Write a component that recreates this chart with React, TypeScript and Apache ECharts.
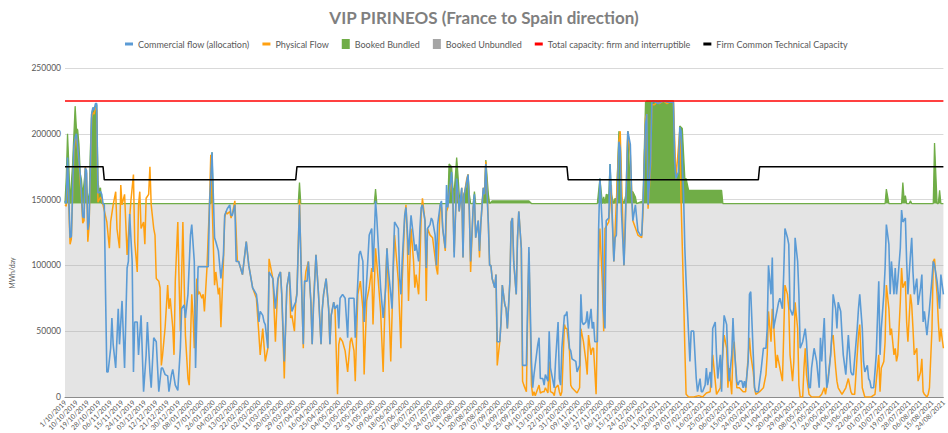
import React, { useEffect, useRef } from 'react';
import * as echarts from 'echarts';

// Categories: one per gas day, 1 Oct 2019 .. 24 Aug 2021
const firstDay = { year: 2019, month: 9, day: 1 };
const dayCount = 694;
const firstLabel = '1/10/2019';

// [day index, thousand MWh/day]
const commercialFlowK: [number, number][] = [
  [0,149],[1,147],[2,182],[4,121],[5,122],[7,190],[8,197],[9,200],[11,180],[12,169],[13,154],[14,137],[15,136],[16,174],[17,172],[18,127],[19,133],[21,215],[22,220],[23,218],[24,223],[25,223],[26,155],[28,156],[29,154],[30,147],[31,146],[32,78],[33,19],[34,19],[36,37],[37,60],[38,40],[40,22],[42,67],[43,40],[45,73],[47,22],[49,98],[50,103],[51,139],[53,103],[54,19],[55,57],[57,57],[58,32],[60,62],[62,4],[64,32],[65,57],[67,19],[68,7],[70,45],[72,42],[74,4],[76,22],[77,22],[79,17],[81,16],[82,4],[84,17],[85,21],[87,9],[89,5],[91,37],[92,67],[94,70],[95,60],[97,78],[99,123],[100,131],[102,103],[103,22],[105,99],[108,99],[110,99],[113,99],[114,146],[116,186],[118,121],[119,118],[121,111],[123,90],[125,108],[126,138],[128,143],[130,146],[131,138],[132,138],[134,146],[135,103],[136,103],
  [137,103],[140,93],[143,118],[145,100],[148,83],[151,78],[152,70],[153,57],[154,65],[156,62],[157,57],[158,55],[160,37],[161,95],[164,90],[166,67],[168,90],[169,93],[170,95],[171,78],[173,27],[174,52],[175,83],[177,95],[178,78],[179,65],[181,70],[182,72],[183,78],[185,146],[187,72],[188,40],[189,88],[191,88],[192,103],[194,72],[195,40],[196,67],[198,108],[200,78],[202,40],[203,67],[204,78],[206,90],[208,67],[209,40],[210,62],[212,72],[213,67],[215,70],[216,52],[217,75],[219,78],[221,75],[223,45],[224,75],[228,75],[229,45],[230,67],[232,108],[233,111],[235,103],[236,57],[238,88],[240,123],[242,128],[243,95],[245,149],[246,136],[247,118],[249,83],[251,60],[253,83],[254,113],[255,98],[257,78],[258,67],[259,103],[260,133],[263,128],[264,90],[265,78],[266,103],[268,138],[269,144],[270,128],[271,108],[273,138],[275,121],[276,111],
  [277,116],[279,103],[280,128],[281,144],[282,146],[284,134],[285,98],[286,128],[288,131],[289,136],[290,134],[292,123],[293,100],[294,131],[296,146],[297,149],[298,128],[300,113],[301,161],[302,144],[303,154],[305,171],[306,151],[307,106],[309,166],[310,156],[311,141],[313,159],[314,106],[315,154],[317,164],[318,169],[319,141],[320,103],[322,144],[323,154],[324,121],[326,134],[327,111],[328,131],[330,159],[331,154],[332,177],[334,131],[335,100],[336,100],[337,90],[339,83],[340,93],[341,42],[343,42],[344,57],[345,85],[347,70],[348,67],[349,52],[351,88],[352,133],[353,136],[354,103],[356,78],[357,121],[358,141],[360,113],[361,24],[362,24],[364,24],[365,72],[366,114],[368,27],[369,7],[370,17],[373,40],[374,45],[375,14],[377,14],[378,9],[379,17],[381,12],[382,50],[383,22],[385,12],[386,7],[387,27],[389,57],[390,14],[391,9],[392,37],[394,62],[395,62],[396,65],[398,37],[399,35],[400,29],[403,27],[404,19],[406,24],[407,78],[408,57],[409,55],[411,57],[412,65],[413,52],[415,67],[416,52],
  [417,57],[418,42],[420,42],[421,128],[422,166],[424,128],[425,65],[426,52],[427,134],[429,136],[430,177],[431,154],[433,103],[434,121],[435,123],[437,194],[438,189],[439,141],[441,100],[442,128],[443,166],[444,202],[446,192],[447,154],[448,134],[450,146],[451,136],[452,126],[454,123],[455,123],[456,146],[458,207],[459,215],[460,146],[462,179],[463,224],[464,225],[468,223],[472,225],[476,224],[480,224],[481,179],[482,166],[484,171],[485,205],[486,202],[488,154],[489,113],[490,88],[492,47],[493,27],[494,50],[496,50],[497,32],[498,14],[499,4],[501,14],[502,4],[503,4],[505,9],[506,22],[507,9],[509,19],[510,7],[511,52],[513,57],[514,32],[515,14],[517,32],[518,4],[519,40],[520,62],[522,55],[523,27],[524,12],[526,32],[527,60],[528,37],[530,12],[531,9],[532,12],[534,12],[535,7],[536,12],[537,7],[539,27],[540,78],[541,80],[543,32],[544,7],[545,4],[547,4],[548,12],[549,19],[551,37],[552,37],[553,37],[554,52],
  [555,100],[557,78],[558,106],[559,52],[561,62],[562,67],[563,72],[564,75],[566,67],[567,93],[568,128],[570,121],[571,116],[572,67],[574,62],[575,67],[576,121],[578,103],[579,78],[580,37],[582,42],[583,47],[584,52],[585,42],[587,7],[588,7],[589,22],[591,37],[592,32],[593,27],[595,7],[596,45],[597,27],[599,60],[600,27],[601,7],[602,12],[604,32],[605,47],[606,78],[608,67],[609,52],[610,72],[612,65],[613,47],[614,32],[616,17],[617,32],[618,47],[620,19],[621,17],[622,17],[623,29],[625,52],[626,67],[627,78],[629,52],[630,27],[631,19],[633,24],[634,14],[635,12],[636,7],[638,7],[639,19],[640,32],[642,88],[643,32],[644,52],[646,78],[647,98],[648,131],[650,116],[651,78],[652,103],[654,78],[655,98],[656,78],[657,88],[659,113],[660,142],[661,133],[663,136],[664,103],[665,78],[667,108],[668,121],[669,95],[670,78],[672,90],[673,70],[675,83],[676,93],[677,57],[678,65],[680,47],[681,57],[682,67],[684,90],[685,103],[686,100],[688,88],[689,78],[690,67],[691,93],[693,78],
];

const physicalFlowK: [number, number][] = [
  [0,146],[1,145],[2,175],[4,116],[5,120],[7,185],[8,195],[9,198],[11,178],[12,165],[13,150],[14,132],[15,134],[16,175],[17,170],[18,118],[19,130],[21,212],[22,216],[23,215],[24,220],[25,218],[26,148],[28,152],[29,150],[30,146],[33,133],[35,113],[36,133],[38,146],[40,156],[41,128],[43,113],[44,161],[45,146],[47,154],[49,108],[50,123],[52,149],[54,169],[55,118],[57,95],[58,146],[59,156],[60,128],[62,133],[63,116],[64,151],[66,154],[67,175],[68,146],[70,128],[71,123],[72,90],[74,88],[75,83],[76,24],[77,32],[79,53],[81,85],[82,67],[83,75],[85,53],[86,32],[87,88],[89,133],[90,88],[91,50],[93,133],[94,88],[95,47],[97,14],[98,9],[100,78],[101,62],[102,37],[104,90],[105,78],[106,80],[108,75],[109,78],[110,65],[112,98],[113,123],[114,146],[115,184],[117,116],[118,85],[119,95],[121,78],[122,83],[123,53],[125,103],[126,136],[127,141],[128,139],[130,141],[131,136],[132,139],[134,149],[136,103],
  [137,103],[140,93],[143,118],[145,100],[148,83],[151,75],[153,47],[154,32],[156,52],[158,27],[160,37],[161,105],[164,90],[166,42],[168,88],[169,93],[170,95],[171,78],[173,14],[174,52],[175,83],[177,95],[178,60],[179,62],[181,50],[182,72],[183,80],[185,150],[187,72],[188,37],[189,85],[190,95],[192,103],[194,72],[195,40],[196,72],[198,108],[200,78],[202,40],[203,67],[204,78],[206,90],[208,67],[209,40],[210,62],[212,72],[213,67],[215,2],[216,40],[217,45],[219,42],[221,35],[223,19],[225,42],[226,45],[228,35],[229,12],[231,78],[233,88],[235,67],[236,17],[238,73],[240,83],[242,98],[243,55],[245,113],[247,90],[249,65],[251,19],[253,90],[254,113],[255,85],[257,27],[259,95],[260,123],[263,88],[265,37],[266,88],[268,136],[269,146],[270,123],[271,73],[273,128],[275,103],[276,83],
  [277,93],[279,78],[280,103],[281,138],[282,151],[284,134],[285,73],[286,128],[288,123],[290,121],[293,98],[294,93],[296,146],[297,144],[298,128],[300,111],[301,141],[302,144],[303,154],[305,166],[306,151],[307,110],[309,163],[310,156],[311,141],[313,159],[314,106],[315,154],[317,166],[318,169],[319,141],[320,95],[322,144],[323,150],[324,121],[326,134],[327,106],[328,131],[330,159],[331,154],[332,179],[334,133],[335,100],[336,100],[337,90],[339,83],[340,93],[341,24],[343,42],[344,57],[345,85],[347,70],[348,67],[349,52],[351,88],[352,133],[353,136],[354,103],[356,78],[357,121],[358,141],[360,113],[361,12],[362,9],[364,4],[365,60],[366,110],[368,9],[369,1],[370,4],[371,1],[374,9],[375,3],[377,4],[378,4],[379,7],[381,3],[382,27],[383,4],[385,3],[386,1],[387,7],[389,9],[390,4],[391,1],[392,4],[394,55],[395,52],[396,52],[398,35],[399,9],[400,7],[403,4],[404,3],[406,7],[407,52],[408,47],[409,42],[411,27],[412,17],[413,47],[415,32],[416,37],
  [417,37],[419,2],[421,103],[422,128],[424,85],[425,50],[426,128],[429,133],[431,161],[433,103],[434,126],[437,194],[438,202],[441,100],[443,166],[444,202],[446,184],[448,134],[452,123],[455,121],[456,140],[458,212],[459,215],[460,143],[462,175],[463,222],[465,222],[467,224],[469,223],[472,225],[475,223],[478,225],[480,224],[482,166],[485,202],[486,151],[488,78],[489,37],[490,2],[492,0],[496,0],[500,1],[503,0],[506,3],[509,4],[511,32],[514,2],[517,7],[520,47],[522,37],[523,7],[524,22],[526,2],[527,37],[528,42],[530,7],[532,7],[535,4],[537,4],[540,45],[541,32],[543,19],[544,7],[545,2],[548,4],[551,7],[553,17],[554,32],
  [555,65],[557,42],[558,67],[559,57],[561,22],[562,32],[563,27],[564,22],[566,12],[567,47],[568,85],[570,78],[571,67],[572,32],[574,12],[575,27],[576,72],[578,52],[579,9],[580,0],[582,0],[583,22],[584,37],[585,17],[587,2],[589,0],[592,0],[595,0],[597,2],[599,7],[600,2],[602,14],[604,32],[605,45],[606,47],[608,22],[609,12],[610,7],[613,2],[616,7],[618,14],[620,4],[621,2],[623,2],[626,47],[627,55],[629,7],[631,0],[634,0],[636,0],[639,2],[642,32],[643,4],[644,22],[646,27],[647,42],[648,85],[650,67],[651,47],[652,52],[654,32],[655,37],[656,27],[657,32],[659,72],[660,98],[661,83],[663,88],[664,57],[665,42],[667,78],[668,70],[669,52],[670,32],[672,37],[673,12],[675,19],[676,29],[677,4],[678,2],[680,0],[681,2],[682,7],[684,52],[685,103],[686,105],[688,78],[689,57],[690,42],[691,52],[693,37],
];

// Booked bundled capacity (thousand MWh/day), stacked on the unbundled level
const bookedBundledK: [number, number][] = [
  [0,0],[1,20],[2,53],[3,30],[4,0],[6,30],[8,74],[9,57],[10,56],[11,45],[12,23],[13,18],[14,6],[16,25],[17,12],[19,0],[20,40],[21,68],[22,72],[24,74],[25,75],[26,17],[27,9],[28,12],[29,0],
  [115,0],[116,39],[117,0],
  [184,0],[185,16],[186,0],
  [244,0],[245,11],[246,0],
  [302,0],[303,30],[305,28],[306,12],[307,8],[309,35],[310,22],[311,7],[312,0],[315,8],[317,12],[318,22],[319,7],[320,0],[322,0],[323,9],[324,0],[329,0],[330,9],[331,9],[332,33],[334,7],[335,0],[337,2],[366,2],[368,0],
  [420,0],[422,19],[424,0],[425,5],[426,0],[427,7],[429,6],[430,30],[431,7],[433,0],[434,4],[435,0],[437,55],[438,50],[439,5],[441,0],[443,9],[444,55],[446,10],[447,9],[448,9],[450,5],[451,0],[456,2],[458,77],[459,78],[480,78],[481,22],[482,19],[484,22],[485,59],[487,57],[489,19],[490,19],[492,10],[518,10],[519,0],
  [647,0],[648,11],[650,0],[660,0],[661,16],[662,3],[663,6],[664,0],[666,0],[667,2],[668,0],[685,0],[686,46],[688,0],[689,0],[690,10],[691,0],[693,0],
];

const bookedUnbundled = 147000;
const totalCapacity = 225000;
// Firm common technical capacity: [day index, MWh/day]
const firmCapacity: [number, number][] = [
  [0,175000],[30,175000],[31,165000],[182,165000],[183,175000],[396,175000],[397,165000],[547,165000],[548,175000],[693,175000],
];

const yTicks = { min: 0, max: 250000, interval: 50000 };

const names = {
  commercial: 'Commercial flow (allocation)',
  physical: 'Physical Flow',
  bundled: 'Booked Bundled',
  unbundled: 'Booked Unbundled',
  total: 'Total capacity: firm and interruptible',
  firm: 'Firm Common Technical Capacity',
};

function buildDates(): string[] {
  const out: string[] = [];
  for (let i = 0; i < dayCount; i++) {
    const d = new Date(Date.UTC(firstDay.year, firstDay.month, firstDay.day + i));
    const dd = String(d.getUTCDate()).padStart(2, '0');
    const mm = String(d.getUTCMonth() + 1).padStart(2, '0');
    out.push(`${dd}/${mm}/${d.getUTCFullYear()}`);
  }
  out[0] = firstLabel;
  return out;
}

const FONT = 'Lato, "Open Sans", sans-serif';
const dashIcon = 'path://M0,0 M0,3.5 L8,3.5 L8,6.5 L0,6.5 Z M8,10';

export default function App() {
  const ref = useRef<HTMLDivElement>(null);
  useEffect(() => {
    if (!ref.current) return;
    const chart = echarts.init(ref.current, undefined, { renderer: 'svg' });
    const dates = buildDates();
    const k = (arr: [number, number][]) => arr.map(([d, v]) => [d, v * 1000]);
    const lastDay = dayCount - 1;
    chart.setOption({
      animation: false,
      backgroundColor: '#ffffff',
      textStyle: { fontFamily: FONT },
      title: {
        text: 'VIP PIRINEOS (France to Spain direction)',
        left: 479,
        top: 4,
        textAlign: 'center',
        textStyle: { fontSize: 17, fontWeight: 'bold', color: '#7f7f7f', fontFamily: FONT },
      },
      legend: {
        left: 120,
        top: 34,
        itemWidth: 8,
        itemHeight: 10,
        itemGap: 13,
        itemStyle: { borderWidth: 0 },
        textStyle: { fontSize: 9, color: '#595959', fontFamily: FONT },
        data: [
          { name: names.commercial, icon: dashIcon },
          { name: names.physical, icon: dashIcon },
          { name: names.bundled, icon: 'rect' },
          { name: names.unbundled, icon: 'rect' },
          { name: names.total, icon: dashIcon },
          { name: names.firm, icon: dashIcon },
        ],
      },
      grid: { left: 65, right: 2, top: 68, bottom: 36 },
      xAxis: {
        type: 'category',
        data: dates,
        boundaryGap: false,
        axisLine: { lineStyle: { color: '#8c8c8c', width: 1 } },
        axisTick: { show: false },
        axisLabel: { interval: 8, rotate: 45, fontSize: 7, color: '#595959', margin: 4, fontFamily: FONT },
        splitLine: { show: false },
      },
      yAxis: {
        type: 'value',
        min: yTicks.min,
        max: yTicks.max,
        interval: yTicks.interval,
        axisLine: { show: false },
        axisTick: { show: false },
        axisLabel: { fontSize: 8.5, color: '#595959', margin: 4, formatter: (v: number) => String(v), fontFamily: FONT },
        splitLine: { lineStyle: { color: '#d9d9d9', width: 1 } },
      },
      graphic: [
        {
          type: 'text',
          x: 12,
          y: 273,
          rotation: Math.PI / 2,
          style: { text: 'MWh/day', fontSize: 7, fill: '#595959', align: 'center', verticalAlign: 'middle', fontFamily: FONT },
        },
      ],
      series: [
        {
          name: names.unbundled,
          type: 'line',
          data: [[0, bookedUnbundled], [lastDay, bookedUnbundled]],
          color: '#a5a5a5',
          showSymbol: false,
          lineStyle: { opacity: 0 },
          areaStyle: { color: '#a5a5a5', opacity: 0.3 },
          z: 1,
        },
        {
          name: names.bundled,
          type: 'line',
          data: bookedBundledK.map(([d, v]) => [d, bookedUnbundled + v * 1000]),
          color: '#70ad47',
          showSymbol: false,
          lineStyle: { color: '#70ad47', width: 1.3 },
          areaStyle: { color: '#70ad47', opacity: 1, origin: bookedUnbundled },
          z: 2,
        },
        {
          name: names.physical,
          type: 'line',
          data: k(physicalFlowK),
          color: '#ffa010',
          showSymbol: false,
          lineStyle: { color: '#ffa010', width: 1.5 },
          z: 3,
        },
        {
          name: names.commercial,
          type: 'line',
          data: k(commercialFlowK),
          color: '#5b9bd5',
          showSymbol: false,
          lineStyle: { color: '#5b9bd5', width: 1.6 },
          z: 4,
        },
        {
          name: names.total,
          type: 'line',
          data: [[0, totalCapacity], [lastDay, totalCapacity]],
          color: '#ff0000',
          showSymbol: false,
          lineStyle: { color: '#ff0000', width: 1.5 },
          z: 5,
        },
        {
          name: names.firm,
          type: 'line',
          data: firmCapacity,
          color: '#000000',
          showSymbol: false,
          lineStyle: { color: '#000000', width: 1.5 },
          z: 5,
        },
      ],
    });
    return () => chart.dispose();
  }, []);
  return (
    <div
      ref={ref}
      style={{ position: 'fixed', left: 0, top: 0, width: 948, height: 433, background: '#fff' }}
    />
  );
}
